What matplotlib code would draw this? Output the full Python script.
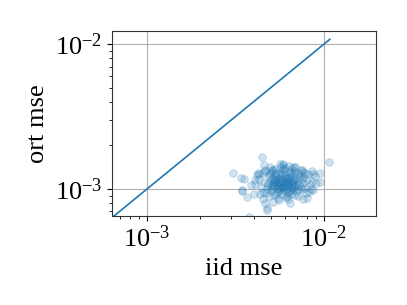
import matplotlib
matplotlib.use("Agg")
import matplotlib.pyplot as plt
import numpy as np

plt.rcParams['font.family'] = ['Liberation Serif', 'DejaVu Serif']
plt.rcParams['mathtext.fontset'] = 'stix'

# (iid mse [1e-3], ort mse [1e-4]) pairs
pairs = [
    (4.48, 16.7), (3.07, 12.8), (3.40, 11.97), (3.55, 11.72), (3.86, 10.66), (3.46, 9.84),
    (3.43, 9.75), (3.66, 8.76), (4.02, 9.19), (10.67, 15.35), (9.49, 12.96), (9.55, 11.11),
    (3.77, 6.37), (4.74, 7.35), (4.78, 7.22), (4.64, 8.04), (6.43, 8.04), (7.64, 8.53),
    (7.98, 8.61), (8.70, 9.84), (8.52, 13.4), (7.48, 13.5), (6.80, 14.3), (5.64, 15.0),
    (5.89, 14.6), (4.25, 13.0), (4.64, 13.5), (4.31, 12.7), (5.17, 13.6),
    (5.0, 11.5), (5.2, 12.0), (5.4, 11.0), (5.6, 10.5), (5.8, 11.8), (6.0, 10.8), (6.2, 12.2), (6.4, 11.3), (6.6, 10.2), (6.8, 11.6),
    (4.8, 10.6), (5.1, 10.0), (5.3, 12.6), (5.5, 9.6), (5.7, 12.9), (5.9, 9.9), (6.1, 11.4), (6.3, 10.4), (6.5, 12.4), (6.7, 9.8),
    (4.6, 11.2), (4.9, 12.3), (5.15, 10.9), (5.45, 11.7), (5.75, 10.1), (6.05, 12.7), (6.35, 9.5), (6.65, 11.0), (6.95, 10.6), (7.2, 11.9),
    (4.4, 10.3), (4.7, 9.4), (5.05, 13.2), (5.35, 9.2), (5.65, 11.3), (5.95, 13.5), (6.25, 10.9), (6.55, 9.3), (6.85, 12.1), (7.1, 10.0),
    (4.5, 12.8), (4.85, 11.0), (5.25, 10.5), (5.55, 12.2), (5.85, 10.4), (6.15, 9.6), (6.45, 11.9), (6.75, 10.7), (7.05, 11.4), (7.4, 10.4),
    (5.0, 9.7), (5.3, 11.4), (5.6, 13.0), (5.9, 11.1), (6.2, 9.0), (6.5, 10.6), (6.8, 13.3), (7.3, 12.5), (7.6, 11.0), (7.8, 10.1),
    (4.3, 11.8), (4.65, 13.4), (5.12, 11.9), (5.48, 10.2), (5.82, 12.5), (6.12, 10.0), (6.42, 12.8), (6.72, 11.5), (7.0, 9.7), (7.5, 11.7),
    (4.9, 8.9), (5.2, 9.1), (5.5, 8.7), (5.8, 9.3), (6.1, 8.8), (6.4, 9.9), (6.9, 9.1), (7.7, 12.2), (8.0, 11.5), (8.3, 10.8),
    (4.75, 10.0), (5.08, 10.7), (5.38, 12.9), (5.68, 9.9), (5.98, 10.3), (6.28, 11.7), (6.58, 10.1), (6.88, 10.3), (7.25, 10.8), (7.55, 10.0),
    (4.55, 9.6), (4.95, 12.7), (5.28, 11.6), (5.58, 11.2), (5.88, 13.8), (6.18, 11.1), (6.48, 11.1), (6.78, 12.8), (7.15, 12.9), (8.1, 12.6),
    (5.7, 14.2), (6.0, 14.0), (5.3, 13.8), (6.6, 13.9), (4.95, 14.1), (7.4, 13.6), (4.2, 12.5), (4.1, 10.8), (8.6, 11.2), (8.9, 12.3),
    (5.55, 8.4), (5.15, 8.2), (6.3, 8.5), (4.55, 8.6), (7.1, 8.9), (7.9, 9.4), (8.4, 10.0), (5.85, 14.8), (6.35, 14.5), (4.6, 14.6),
    (5.0, 10.4), (5.25, 11.1), (5.5, 10.0), (5.75, 11.6), (6.0, 11.9), (6.2, 10.6), (5.4, 10.7), (5.9, 10.6), (6.1, 12.0), (5.65, 10.8),
    (8.2, 9.6), (8.7, 12.7), (7.6, 13.1), (7.8, 12.8), (4.35, 9.2), (4.1, 11.6), (9.0, 11.0), (6.9, 14.3), (5.1, 13.6), (6.45, 13.3),
]
iid_mse = [p[0] * 1e-3 for p in pairs]
ort_mse = [p[1] * 1e-4 for p in pairs]

line_lo, line_hi = 5e-4, 1.08e-2

fig = plt.figure(figsize=(4.07, 3.05), dpi=100)
ax = fig.add_axes([0.275, 0.292, 0.649, 0.606])
ax.scatter(iid_mse, ort_mse, s=30, alpha=0.2, color='#1f77b4', linewidths=0.8)
ax.plot([line_lo, line_hi], [line_lo, line_hi], color='#1f77b4', lw=1.2)
ax.set_xscale('log')
ax.set_yscale('log')
ax.set_xlim(6.34e-4, 1.97e-2)
ax.set_ylim(6.52e-4, 1.23e-2)
ax.grid(True, which='major', color='#b0b0b0', lw=0.8)
ax.set_axisbelow(True)
ax.tick_params(labelsize=19)
ax.set_xlabel('iid mse', fontsize=19)
ax.set_ylabel('ort mse', fontsize=19)
for s in ax.spines.values():
    s.set_color('#333333')
fig.savefig('out.png', dpi=100)
